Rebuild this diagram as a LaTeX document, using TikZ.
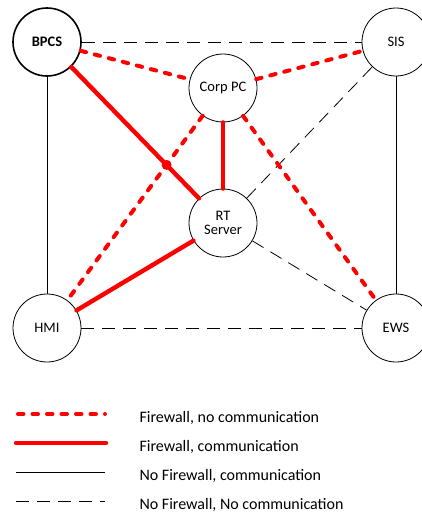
\documentclass[tikz,border=0pt]{standalone}
\usepackage{fontspec}
\setmainfont{Carlito}
\begin{document}
\begin{tikzpicture}[x = 1pt, y = -1pt,
    host/.style = {circle, draw, line width = 0.8pt, minimum size = 68pt, inner sep = 0pt, align = center, font = \fontsize{14.5}{15}\selectfont},
    fwno/.style = {red, line width = 4pt, dash pattern = on 5.5pt off 9pt, line cap = round},
    fwcom/.style = {red, line width = 4.4pt, line cap = round},
    nofwcom/.style = {black, line width = 0.8pt},
    nofwno/.style = {black, line width = 0.8pt, dash pattern = on 13pt off 8pt},
    legtext/.style = {anchor = west, font = \fontsize{16}{17}\selectfont}]
            \useasboundingbox (0, 0) rectangle (422, 514);
            % hosts
            \node [host, line width = 1.6pt] (bpcs) at (47, 42) {\textbf{BPCS}};
            \node [host] (sis) at (396, 42) {SIS};
            \node [host] (corp) at (223, 88) {Corp PC};
            \node [host] (rt) at (223, 223) {RT\\[-1pt]Server};
            \node [host] (hmi) at (47, 328) {HMI};
            \node [host] (ews) at (396, 328) {EWS};
            
            % links
            \draw [nofwno] (bpcs) -- (sis);
            \draw [nofwno] (hmi) -- (ews);
            \draw [nofwno] (rt) -- (sis);
            \draw [nofwno] (rt) -- (ews);
            \draw [nofwcom] (bpcs) -- (hmi);
            \draw [nofwcom] (sis) -- (ews);
            \draw [fwno] (bpcs) -- (corp);
            \draw [fwno] (corp) -- (sis);
            \draw [fwno] (corp) -- (hmi);
            \draw [fwno] (corp) -- (ews);
            \draw [fwcom] (bpcs) -- (rt);
            \draw [fwcom] (corp) -- (rt);
            \draw [fwcom] (rt) -- (hmi);
            \coordinate (cross) at (intersection of bpcs--rt and corp--hmi);
            \fill [red] (cross) circle (5pt);
            
            % legend
            \coordinate (l1a) at (18, 414); \coordinate (l1b) at (105, 414);
            \coordinate (l2a) at (16, 443); \coordinate (l2b) at (106, 443);
            \coordinate (l3a) at (16, 472); \coordinate (l3b) at (105, 472);
            \coordinate (l4a) at (16, 501); \coordinate (l4b) at (105, 501);
            \draw [fwno] (l1a) -- (l1b);
            \draw [fwcom] (l2a) -- (l2b);
            \draw [nofwcom] (l3a) -- (l3b);
            \draw [nofwno] (l4a) -- (l4b);
            \node [legtext] (t1) at (136, 418) {Firewall, no communication};
            \node [legtext] (t2) at (136, 447) {Firewall, communication};
            \node [legtext] (t3) at (136, 476) {No Firewall, communication};
            \node [legtext] (t4) at (136, 505) {No Firewall, No communication};
        \end{tikzpicture}
\end{document}
